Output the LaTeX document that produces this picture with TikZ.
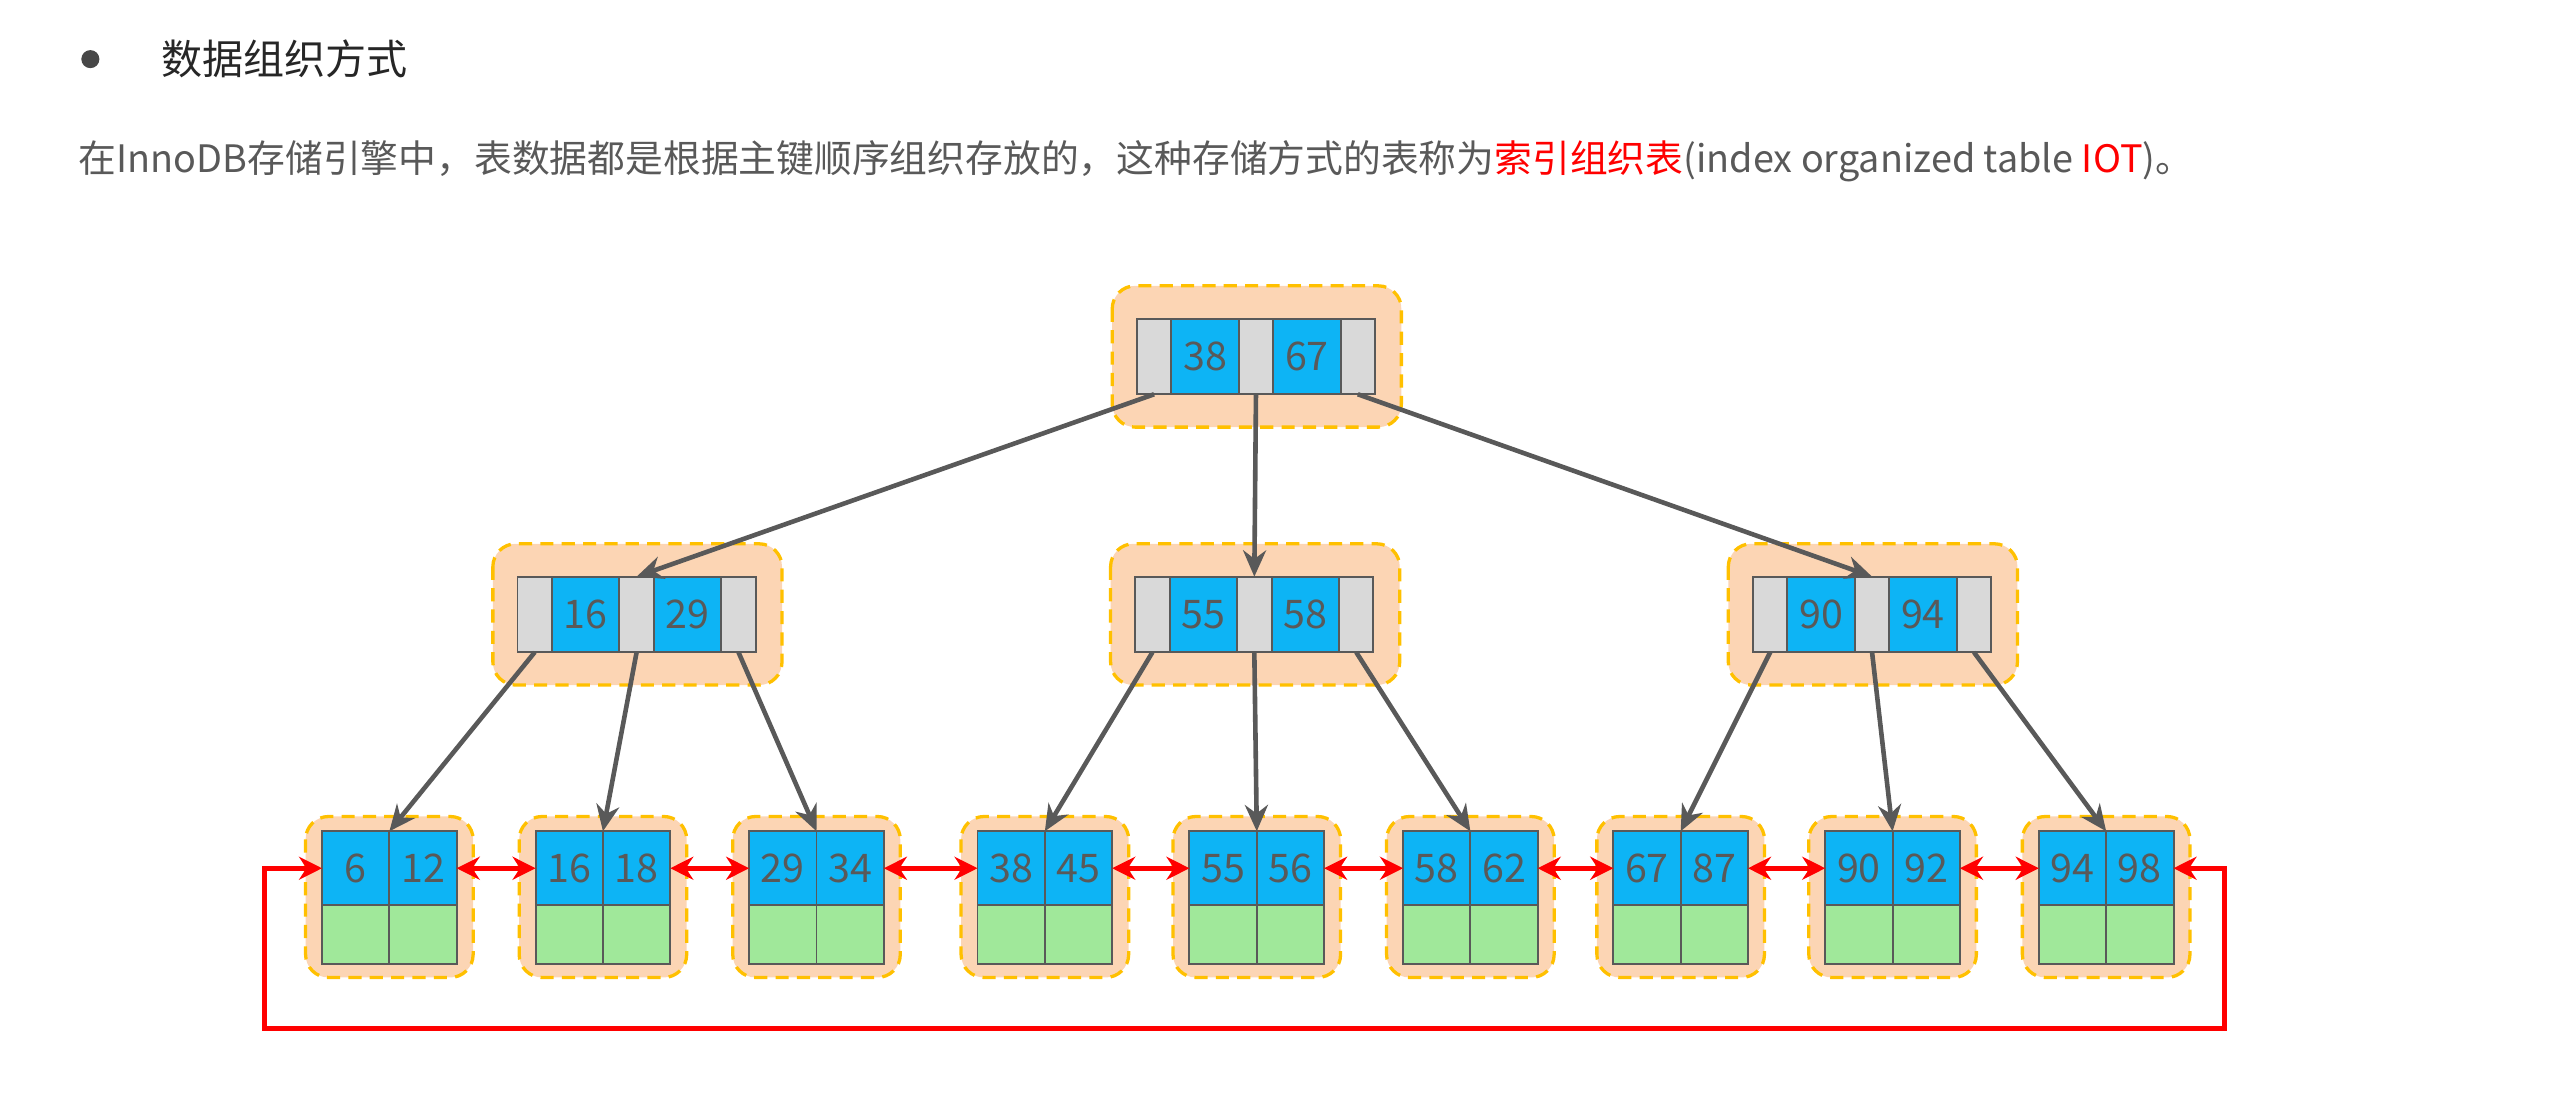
\documentclass[tikz,border=0pt]{standalone}
\usepackage{fontspec}
\newfontfamily\cjk{Noto Sans CJK SC}
\usetikzlibrary{positioning,arrows.meta}
\definecolor{keyblue}{HTML}{0DB4F5}
\definecolor{ptrgrey}{HTML}{D9D9D9}
\definecolor{datagreen}{HTML}{A0E89A}
\definecolor{pagefill}{HTML}{FCD5B4}
\definecolor{pageline}{HTML}{FFC000}
\definecolor{textgrey}{HTML}{595959}
\tikzstyle{page}=[draw=pageline,fill=pagefill,line width=1pt,dash pattern=on 4pt off 2.5pt,rounded corners=7pt]
\tikzstyle{key}=[draw=textgrey,fill=keyblue,line width=0.6pt,minimum width=20.5pt,minimum height=22.5pt,inner sep=0pt,outer sep=0pt,font=\cjk\fontsize{12}{12}\selectfont,text=textgrey]
\tikzstyle{ptr}=[key,fill=ptrgrey,minimum width=10.5pt,minimum height=23pt]
\tikzstyle{data}=[key,fill=datagreen,minimum height=18pt]
\tikzstyle{child}=[draw=textgrey,line width=1.4pt,-{Stealth[length=8pt,width=7pt]}]
\tikzstyle{link}=[draw=red,line width=1.5pt,{Stealth[length=7pt,width=7pt]}-{Stealth[length=7pt,width=7pt]}]
\newcommand{\drawinner}[5]{
\begin{scope}[shift={(#2,#3)}]
  \draw[page] (-15,-20) rectangle (161,66);
  \node[ptr,anchor=west] (#1p0) at (0,23) {};
  \node[key,minimum height=23pt,right=0pt of #1p0] (#1k1) {#4};
  \node[ptr,right=0pt of #1k1] (#1p1) {};
  \node[key,minimum height=23pt,right=0pt of #1p1] (#1k2) {#5};
  \node[ptr,right=0pt of #1k2] (#1p2) {};
\end{scope}
}
\newcommand{\drawleaf}[4]{
\begin{scope}[shift={(#2,506)}]
  \draw[page] (-10,-9) rectangle (92,89);
  \node[key,anchor=north west] (#1a) at (0,0) {#3};
  \node[key,right=0pt of #1a] (#1b) {#4};
  \node[data,below=0pt of #1a] (#1c) {};
  \node[data,below=0pt of #1b] (#1d) {};
\end{scope}
}

\begin{document}
\begin{tikzpicture}[x=0.5pt,y=-0.5pt]
  \useasboundingbox (0,0) rectangle (1568,672);
  % heading
  \node[circle,fill=textgrey!80!black,minimum size=5.5pt,inner sep=0pt] (bullet) at (55,36) {};
  \node[anchor=west,text=black!85,font=\cjk\fontsize{12.5}{14}\selectfont] (title) at (91,36) {数据组织方式};
  \node[anchor=west,text=textgrey,font=\cjk\fontsize{11.5}{14}\selectfont] (intro) at (41,98)
    {在InnoDB存储引擎中，表数据都是根据主键顺序组织存放的，这种存储方式的表称为\textcolor{red}{索引组织表}(index organized table \textcolor{red}{IOT})。};
  % inner pages
  \drawinner{root}{692}{194}{38}{67}
  \drawinner{left}{315}{351}{16}{29}
  \drawinner{mid}{691}{351}{55}{58}
  \drawinner{right}{1067}{351}{90}{94}
  % leaf pages
  \drawleaf{la}{196}{6}{12}
  \drawleaf{lb}{326}{16}{18}
  \drawleaf{lc}{456}{29}{34}
  \drawleaf{ld}{595}{38}{45}
  \drawleaf{le}{724}{55}{56}
  \drawleaf{lf}{854}{58}{62}
  \drawleaf{lg}{982}{67}{87}
  \drawleaf{lh}{1111}{90}{92}
  \drawleaf{li}{1241}{94}{98}
  % tree pointers
  \draw[child] (rootp0.south) -- (leftp1.north);
  \draw[child] (rootp1.south) -- (midp1.north);
  \draw[child] (rootp2.south) -- (rightp1.north);
  \foreach \p/\x/\y/\z in {left/la/lb/lc, mid/ld/le/lf, right/lg/lh/li} {
    \draw[child] (\p p0.south) -- (\x a.north east);
    \draw[child] (\p p1.south) -- (\y a.north east);
    \draw[child] (\p p2.south) -- (\z a.north east);
  }
  % leaf list
  \foreach \u/\v in {la/lb, lb/lc, lc/ld, ld/le, le/lf, lf/lg, lg/lh, lh/li}
    \draw[link] (\u b.east) -- (\v a.west);
  \coordinate (loopse) at (1354,626);
  \coordinate (loopsw) at (161,626);
  \draw[link] (lib.east) -| (loopse) -- (loopsw) |- (laa.west);
\end{tikzpicture}
\end{document}
